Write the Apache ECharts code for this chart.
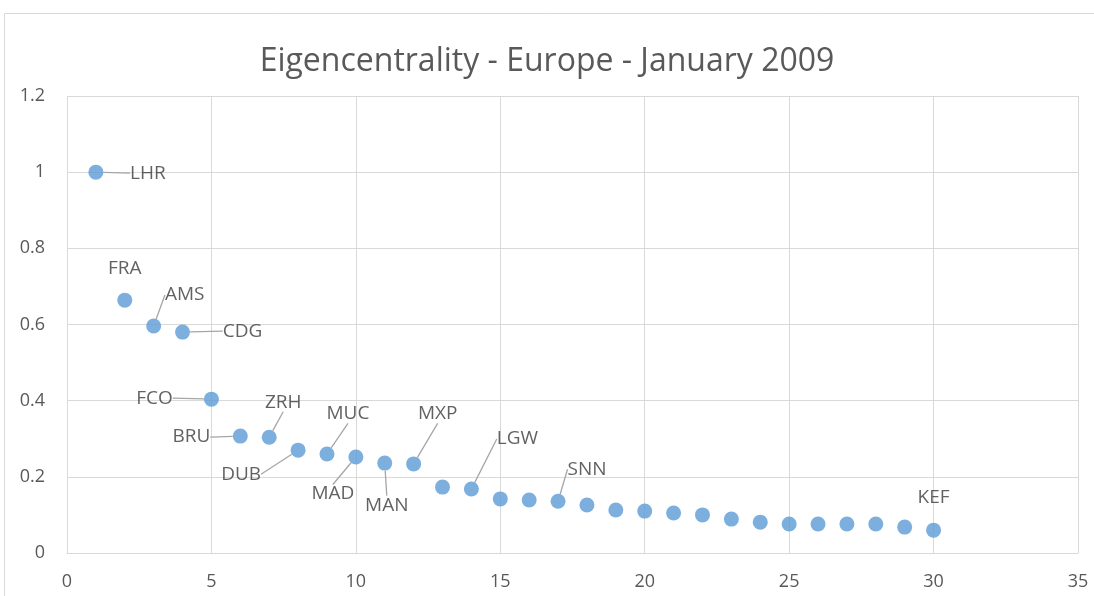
<!DOCTYPE html>
<html><head><meta charset="utf-8">
<script src="https://cdn.jsdelivr.net/npm/echarts@6/dist/echarts.min.js"></script>
<style>html,body{margin:0;padding:0;background:#fff}#c{width:1094px;height:596px}</style>
</head><body><div id="c"></div>
<script>
const ranks = [1,2,3,4,5,6,7,8,9,10,11,12,13,14,15,16,17,18,19,20,21,22,23,24,25,26,27,28,29,30];
const values = [1.0,0.664,0.596,0.58,0.404,0.307,0.304,0.27,0.26,0.252,0.236,0.234,0.173,0.168,0.142,0.139,0.136,0.126,0.113,0.110,0.105,0.10,0.089,0.081,0.076,0.076,0.076,0.076,0.068,0.060];
const airports = ['LHR','FRA','AMS','CDG','FCO','BRU','ZRH','DUB','MUC','MAD','MAN','MXP','','LGW','','','SNN','','','','','','','','','','','','','KEF'];
const xTicks = [0,5,10,15,20,25,30,35];
const yTicks = [0,0.2,0.4,0.6,0.8,1,1.2];

// label offsets (px) from each point, keyed by airport
const labelOffsets = {
  LHR:[52,1], FRA:[0,-32], AMS:[31,-31], CDG:[60,-1], FCO:[-57,-1], BRU:[-49,1],
  ZRH:[14,-35], DUB:[-57,24], MUC:[21,-40], MAD:[-23,37], MAN:[2,42], MXP:[24,-50],
  LGW:[46,-50], SNN:[29,-32], KEF:[0,-33]
};
const noLine = {FRA:true, KEF:true};

const data = ranks.map((r,i)=>({
  value:[r, values[i]], name: airports[i],
  label:{show: airports[i] !== ''},
  labelLine:{show: airports[i] !== '' && !noLine[airports[i]]}
}));

const chart = echarts.init(document.getElementById('c'));
const font = 'Open Sans';
chart.setOption({
  animation:false,
  textStyle:{fontFamily:font},
  title:{text:'Eigencentrality - Europe - January 2009', left:'center', top:41,
    textStyle:{fontFamily:font, fontWeight:'normal', fontSize:32, color:'#595959'}},
  graphic:[{type:'rect', shape:{x:4.5,y:13.5,width:1200,height:700}, style:{fill:'none', stroke:'#d9d9d9', lineWidth:1}, silent:true}],
  grid:{left:67, right:16, top:96, bottom:43},
  xAxis:{type:'value', min:0, max:35, interval:5,
    axisLine:{show:true, onZero:false, lineStyle:{color:'#d9d9d9'}}, axisTick:{show:false},
    axisLabel:{color:'#595959', fontSize:18, fontFamily:font, margin:20},
    splitLine:{show:true, lineStyle:{color:'#d9d9d9'}}},
  yAxis:{type:'value', min:0, max:1.2, interval:0.2,
    axisLine:{show:false}, axisTick:{show:false},
    axisLabel:{color:'#595959', fontSize:18, fontFamily:font, margin:22,
      formatter:v=>String(Math.round(v*10)/10)},
    splitLine:{show:true, lineStyle:{color:'#d9d9d9'}}},
  series:[{
    type:'scatter', symbolSize:15, itemStyle:{color:'#5b9bd5'},
    data:data,
    label:{position:'inside', formatter:p=>p.name, color:'#3a3a3a', fontSize:19, fontFamily:font},
    labelLine:{lineStyle:{color:'#a6a6a6', width:1.3}},
    labelLayout:function(p){
      const o = labelOffsets[airports[p.dataIndex]];
      if(!o) return {};
      return {dx:o[0], dy:o[1]};
    }
  }]
});
</script></body></html>
